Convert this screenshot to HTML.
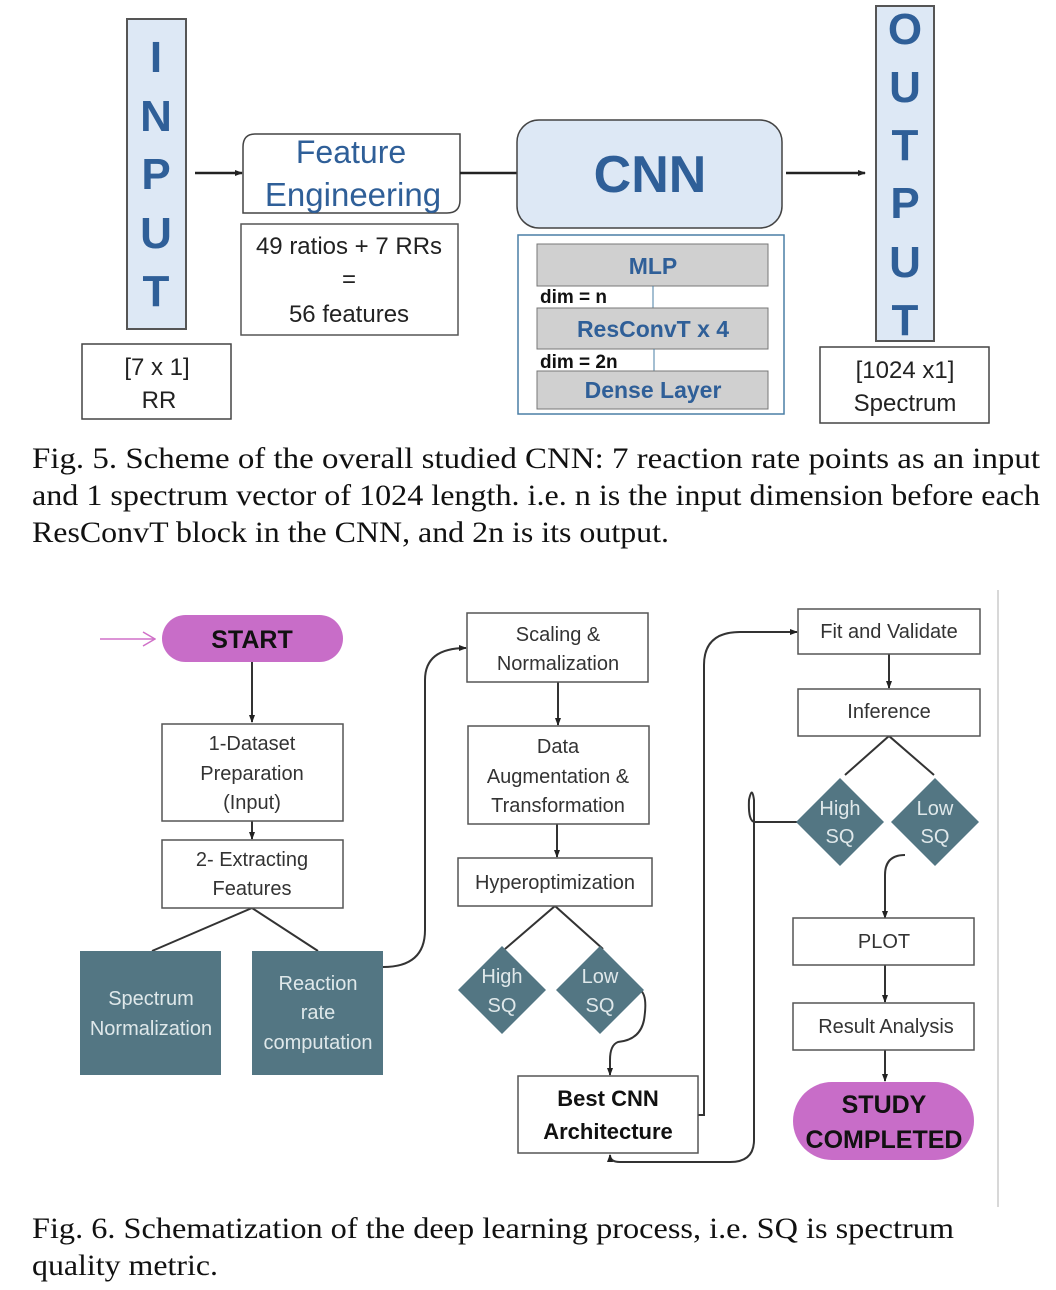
<!DOCTYPE html>
<html><head><meta charset="utf-8"><style>
html,body{margin:0;padding:0;background:#fff;}
svg{display:block;}
.s{font-family:"Liberation Sans",sans-serif;}
.cap{font-family:"Liberation Serif",serif;font-size:30px;fill:#111;}
</style></head><body>
<svg width="1056" height="1290" viewBox="0 0 1056 1290" xmlns="http://www.w3.org/2000/svg">
<defs>
<marker id="a" markerWidth="8" markerHeight="8" refX="7" refY="4" orient="auto" markerUnits="userSpaceOnUse"><path d="M0,1 L8,4 L0,7 z" fill="#222"/></marker>
<marker id="p" markerWidth="14" markerHeight="16" refX="13" refY="8" orient="auto" markerUnits="userSpaceOnUse"><path d="M1,1 L13,8 L1,15" fill="none" stroke="#d070c8" stroke-width="1.5"/></marker>
</defs>
<g class="s">
<rect x="127" y="19" width="59" height="310" fill="#dde8f5" stroke="#555" stroke-width="2"/>
<g font-weight="bold" font-size="44" fill="#2f5f98" text-anchor="middle">
<text x="156" y="72">I</text><text x="156" y="131">N</text><text x="156" y="189">P</text><text x="156" y="248">U</text><text x="156" y="306">T</text>
</g>
<rect x="82" y="344" width="149" height="75" fill="#fff" stroke="#444" stroke-width="1.5"/>
<text x="157" y="375" font-size="24" text-anchor="middle" fill="#222">[7 x 1]</text>
<text x="159" y="408" font-size="24" text-anchor="middle" fill="#222">RR</text>
<line x1="195" y1="173" x2="242" y2="173" stroke="#222" stroke-width="2.5" marker-end="url(#a)"/>
<path d="M255,134 H460 V200 Q460,213 447,213 H243 V147 Q243,134 255,134 Z" fill="#fff" stroke="#444" stroke-width="1.5"/>
<text x="351" y="163" font-size="32" text-anchor="middle" fill="#2f5f98">Feature</text>
<text x="353" y="206" font-size="33" text-anchor="middle" fill="#2f5f98">Engineering</text>
<rect x="241" y="224" width="217" height="111" fill="#fff" stroke="#555" stroke-width="1.5"/>
<text x="349" y="254" font-size="24" text-anchor="middle" fill="#222">49 ratios + 7 RRs</text>
<text x="349" y="287" font-size="24" text-anchor="middle" fill="#222">=</text>
<text x="349" y="322" font-size="24" text-anchor="middle" fill="#222">56 features</text>
<line x1="460" y1="173" x2="517" y2="173" stroke="#222" stroke-width="2.5"/>
<rect x="517" y="120" width="265" height="108" rx="22" fill="#dde8f5" stroke="#444" stroke-width="1.5"/>
<text x="650" y="192" font-size="52" font-weight="bold" text-anchor="middle" fill="#2f5f98">CNN</text>
<rect x="518" y="235" width="266" height="179" fill="#fff" stroke="#4a7fa5" stroke-width="1.5"/>
<rect x="537" y="244" width="231" height="42" fill="#d0d0d0" stroke="#777" stroke-width="1"/>
<text x="653" y="274" font-size="23" font-weight="bold" text-anchor="middle" fill="#2f5f98">MLP</text>
<text x="540" y="303" font-size="19" font-weight="bold" fill="#111">dim = n</text>
<line x1="653" y1="286" x2="653" y2="308" stroke="#4a7fa5" stroke-width="1"/>
<rect x="537" y="308" width="231" height="41" fill="#d0d0d0" stroke="#777" stroke-width="1"/>
<text x="653" y="337" font-size="23" font-weight="bold" text-anchor="middle" fill="#2f5f98">ResConvT x 4</text>
<text x="540" y="368" font-size="19" font-weight="bold" fill="#111">dim = 2n</text>
<line x1="654" y1="349" x2="654" y2="371" stroke="#4a7fa5" stroke-width="1"/>
<rect x="537" y="371" width="231" height="38" fill="#d0d0d0" stroke="#777" stroke-width="1"/>
<text x="653" y="398" font-size="23" font-weight="bold" text-anchor="middle" fill="#2f5f98">Dense Layer</text>
<line x1="786" y1="173" x2="865" y2="173" stroke="#222" stroke-width="2.5" marker-end="url(#a)"/>
<rect x="876" y="6" width="58" height="335" fill="#dde8f5" stroke="#555" stroke-width="2"/>
<g font-weight="bold" font-size="44" fill="#2f5f98" text-anchor="middle">
<text x="905" y="44">O</text><text x="905" y="102">U</text><text x="905" y="160">T</text><text x="905" y="218">P</text><text x="905" y="277">U</text><text x="905" y="335">T</text>
</g>
<rect x="820" y="347" width="169" height="76" fill="#fff" stroke="#444" stroke-width="1.5"/>
<text x="905" y="378" font-size="24" text-anchor="middle" fill="#222">[1024 x1]</text>
<text x="905" y="411" font-size="24" text-anchor="middle" fill="#222">Spectrum</text>
</g>
<text class="cap" x="32" y="468" textLength="1008" lengthAdjust="spacingAndGlyphs">Fig. 5.  Scheme of the overall studied CNN: 7 reaction rate points as an input</text>
<text class="cap" x="32" y="505" textLength="1008" lengthAdjust="spacingAndGlyphs">and 1 spectrum vector of 1024 length. i.e. n is the input dimension before each</text>
<text class="cap" x="32" y="542" textLength="637" lengthAdjust="spacingAndGlyphs">ResConvT block in the CNN, and 2n is its output.</text>

<g class="s" fill="none" stroke="#333" stroke-width="2">
<line x1="998" y1="590" x2="998" y2="1207" stroke="#ccc" stroke-width="1.5"/>
<line x1="100" y1="639" x2="155" y2="639" stroke="#d070c8" stroke-width="1.5" marker-end="url(#p)"/>
<line x1="252" y1="662" x2="252" y2="722" marker-end="url(#a)"/>
<line x1="252" y1="821" x2="252" y2="839" marker-end="url(#a)"/>
<polyline points="152,951 252,908 318,951"/>
<path d="M383,967 Q425,967 425,930 V680 Q425,648 466,648" marker-end="url(#a)"/>
<line x1="558" y1="682" x2="558" y2="725" marker-end="url(#a)"/>
<line x1="557" y1="824" x2="557" y2="857" marker-end="url(#a)"/>
<polyline points="505,949 555,906 603,949"/>
<path d="M640,990 Q648,995 644,1020 Q640,1040 618,1042 Q610,1045 610,1060 V1075" marker-end="url(#a)"/>
<path d="M698,1115 H704 V665 Q704,632 740,632 H797" marker-end="url(#a)"/>
<line x1="889" y1="654" x2="889" y2="688" marker-end="url(#a)"/>
<polyline points="845,775 889,736 934,775"/>
<path d="M797,822 H755 Q748,822 749,800 Q752,785 754,800 V1140 Q754,1162 730,1162 H620 Q610,1162 610,1155" marker-end="url(#a)"/>
<path d="M905,855 Q885,855 885,875 V918" marker-end="url(#a)"/>
<line x1="885" y1="965" x2="885" y2="1002" marker-end="url(#a)"/>
<line x1="885" y1="1050" x2="885" y2="1081" marker-end="url(#a)"/>
</g>
<g class="s" font-size="20" fill="#333" text-anchor="middle">
<rect x="162" y="615" width="181" height="47" rx="23.5" fill="#c86dc8"/>
<text x="252" y="648" font-size="25" font-weight="bold" fill="#111">START</text>
<rect x="162" y="724" width="181" height="97" fill="#fff" stroke="#555" stroke-width="1.5"/>
<text x="252" y="750">1-Dataset</text><text x="252" y="780">Preparation</text><text x="252" y="809">(Input)</text>
<rect x="162" y="840" width="181" height="68" fill="#fff" stroke="#555" stroke-width="1.5"/>
<text x="252" y="866">2- Extracting</text><text x="252" y="895">Features</text>
<rect x="80" y="951" width="141" height="124" fill="#537683"/>
<text x="151" y="1005" fill="#dfe8ea">Spectrum</text><text x="151" y="1035" fill="#dfe8ea">Normalization</text>
<rect x="252" y="951" width="131" height="124" fill="#537683"/>
<text x="318" y="990" fill="#dfe8ea">Reaction</text><text x="318" y="1019" fill="#dfe8ea">rate</text><text x="318" y="1049" fill="#dfe8ea">computation</text>
<rect x="467" y="613" width="181" height="69" fill="#fff" stroke="#555" stroke-width="1.5"/>
<text x="558" y="641">Scaling &amp;</text><text x="558" y="670">Normalization</text>
<rect x="468" y="726" width="181" height="98" fill="#fff" stroke="#555" stroke-width="1.5"/>
<text x="558" y="753">Data</text><text x="558" y="783">Augmentation &amp;</text><text x="558" y="812">Transformation</text>
<rect x="458" y="858" width="194" height="48" fill="#fff" stroke="#555" stroke-width="1.5"/>
<text x="555" y="889">Hyperoptimization</text>
<polygon points="502,946 546,990 502,1034 458,990" fill="#537683"/>
<text x="502" y="983" fill="#dfe8ea">High</text><text x="502" y="1012" fill="#dfe8ea">SQ</text>
<polygon points="600,946 644,990 600,1034 556,990" fill="#537683"/>
<text x="600" y="983" fill="#dfe8ea">Low</text><text x="600" y="1012" fill="#dfe8ea">SQ</text>
<rect x="518" y="1076" width="180" height="77" fill="#fff" stroke="#555" stroke-width="1.5"/>
<text x="608" y="1106" font-weight="bold" font-size="22" fill="#111">Best CNN</text>
<text x="608" y="1139" font-weight="bold" font-size="22" fill="#111">Architecture</text>
<rect x="798" y="609" width="182" height="45" fill="#fff" stroke="#555" stroke-width="1.5"/>
<text x="889" y="638">Fit and Validate</text>
<rect x="798" y="689" width="182" height="47" fill="#fff" stroke="#555" stroke-width="1.5"/>
<text x="889" y="718">Inference</text>
<polygon points="840,778 884,822 840,866 796,822" fill="#537683"/>
<text x="840" y="815" fill="#dfe8ea">High</text><text x="840" y="843" fill="#dfe8ea">SQ</text>
<polygon points="935,778 979,822 935,866 891,822" fill="#537683"/>
<text x="935" y="815" fill="#dfe8ea">Low</text><text x="935" y="843" fill="#dfe8ea">SQ</text>
<rect x="793" y="918" width="181" height="47" fill="#fff" stroke="#555" stroke-width="1.5"/>
<text x="884" y="948">PLOT</text>
<rect x="793" y="1003" width="181" height="47" fill="#fff" stroke="#555" stroke-width="1.5"/>
<text x="886" y="1033">Result Analysis</text>
<rect x="793" y="1082" width="181" height="78" rx="39" fill="#c86dc8"/>
<text x="884" y="1113" font-size="25" font-weight="bold" fill="#111">STUDY</text>
<text x="884" y="1148" font-size="25" font-weight="bold" fill="#111">COMPLETED</text>
</g>
<text class="cap" x="32" y="1238" textLength="922" lengthAdjust="spacingAndGlyphs">Fig. 6.  Schematization of the deep learning process, i.e. SQ is spectrum</text>
<text class="cap" x="32" y="1275" textLength="186" lengthAdjust="spacingAndGlyphs">quality metric.</text>
</svg>
</body></html>
